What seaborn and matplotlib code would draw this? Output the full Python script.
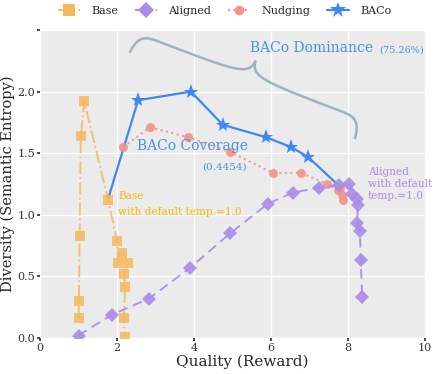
import numpy as np
import pandas as pd
import matplotlib
matplotlib.use("Agg")
import matplotlib.pyplot as plt
import seaborn as sns
from matplotlib.lines import Line2D

# ----------------------------------------------------------------
# data
# ----------------------------------------------------------------
base_x = [1.00, 1.01, 1.03, 1.06, 1.15, 1.77, 2.00, 2.03, 2.13, 2.29, 2.18, 2.21, 2.18, 2.20]
base_y = [0.16, 0.30, 0.83, 1.64, 1.92, 1.12, 0.79, 0.61, 0.69, 0.61, 0.52, 0.41, 0.16, 0.01]

aligned_x = [1.00, 1.87, 2.83, 3.90, 4.94, 5.92, 6.57, 7.25, 7.77, 8.03, 8.10, 8.23, 8.26,
             8.23, 8.31, 8.33, 8.37]
aligned_y = [0.02, 0.19, 0.32, 0.57, 0.85, 1.09, 1.18, 1.22, 1.24, 1.25, 1.17, 1.13, 1.08,
             0.93, 0.87, 0.63, 0.33]

nudging_x = [2.16, 2.86, 3.84, 4.94, 6.05, 6.78, 7.45, 7.74, 7.84, 7.80, 7.86]
nudging_y = [1.55, 1.71, 1.63, 1.51, 1.34, 1.34, 1.25, 1.20, 1.16, 1.22, 1.12]

baco_x = [1.77, 2.55, 3.92, 4.75, 5.87, 6.52, 6.96, 7.75]
baco_y = [1.13, 1.93, 2.00, 1.73, 1.63, 1.55, 1.47, 1.24]

x_ticks = [0, 2, 4, 6, 8, 10]
y_ticks = [0.0, 0.5, 1.0, 1.5, 2.0]

C_BASE = "#F5B85C"
C_ALIGNED = "#A98CEA"
C_NUDGE = "#F29488"
C_BACO = "#3F87F3"
C_TEXT_BLUE = "#4A90E2"
C_TEXT_BASE = "#F5BA0A"
C_BRACE = "#9DB3BE"

sns.set_theme(style="darkgrid", rc={
    "axes.facecolor": "#EBEBEB",
    "grid.color": "white",
    "grid.linewidth": 1.0,
    "xtick.bottom": True,
    "ytick.left": True,
    "xtick.major.size": 2.5,
    "ytick.major.size": 2.5,
    "xtick.color": "#333333",
    "ytick.color": "#333333",
})
plt.rcParams["font.family"] = ["DejaVu Serif"]

fig = plt.figure(figsize=(4.36, 3.74), dpi=100)
ax = fig.add_axes([40 / 436, 36 / 374, 385 / 436, 308 / 374])

df_base = pd.DataFrame({"x": base_x, "y": base_y})
df_aligned = pd.DataFrame({"x": aligned_x, "y": aligned_y})
df_nudge = pd.DataFrame({"x": nudging_x, "y": nudging_y})
df_baco = pd.DataFrame({"x": baco_x, "y": baco_y})

# BACo first so the other markers sit on top of its ends
sns.lineplot(data=df_baco, x="x", y="y", sort=False, estimator=None, ax=ax,
             color=C_BACO, lw=1.6, marker="*", markersize=11, markeredgewidth=0,
             markevery=list(range(1, len(baco_x) - 1)), zorder=2)
sns.lineplot(data=df_nudge, x="x", y="y", sort=False, estimator=None, ax=ax,
             color=C_NUDGE, lw=1.5, linestyle=":", marker="o", markersize=6.5,
             markeredgewidth=0, alpha=0.9, zorder=3)
sns.lineplot(data=df_aligned, x="x", y="y", sort=False, estimator=None, ax=ax,
             color=C_ALIGNED, lw=1.4, linestyle=(0, (5, 3)), marker="D", markersize=7.5,
             markeredgewidth=0, alpha=0.9, zorder=3)
sns.lineplot(data=df_base, x="x", y="y", sort=False, estimator=None, ax=ax,
             color=C_BASE, lw=1.4, linestyle="-.", marker="s", markersize=7,
             markeredgewidth=0, alpha=0.85, zorder=4)

ax.set_xlim(0, 10)
ax.set_ylim(0, 2.5)
ax.set_xticks(x_ticks)
ax.set_yticks(y_ticks + [2.5])
ax.set_yticklabels([f"{v:.1f}" for v in y_ticks] + [""])
ax.tick_params(axis="both", labelsize=8, pad=1)
ax.set_xlabel("Quality (Reward)", fontsize=11, labelpad=1)
ax.xaxis.set_label_coords(0.525, -0.055)
ax.set_ylabel("Diversity (Semantic Entropy)", fontsize=10.5, labelpad=2)
for s in ax.spines.values():
    s.set_visible(False)

# annotations
ax.text(5.45, 2.35, "BACo Dominance", color=C_TEXT_BLUE, fontsize=10, va="center")
ax.text(8.8, 2.34, "(75.26%)", color=C_TEXT_BLUE, fontsize=7, va="center",
        clip_on=False)
ax.text(2.52, 1.555, "BACo Coverage", color=C_TEXT_BLUE, fontsize=10, va="center")
ax.text(4.2, 1.385, "(0.4454)", color=C_TEXT_BLUE, fontsize=7.5, va="center")
ax.text(2.03, 1.15, "Base", color=C_TEXT_BASE, fontsize=7.6, va="center")
ax.text(2.03, 1.025, "with default temp.=1.0", color=C_TEXT_BASE, fontsize=7.6, va="center")
ax.text(8.52, 1.25, "Aligned\nwith default\ntemp.=1.0", color=C_ALIGNED, fontsize=7.6,
        va="center", linespacing=1.25, clip_on=False)

# curly brace (pixel space of the figure)
L, hb, ht = 241.0, 20.0, 36.0
p0 = np.array([130.0, 52.0])
d = np.array([0.934, 0.357])
n = np.array([0.357, -0.934])


def bez(a, b, c, e, k=20):
    t = np.linspace(0, 1, k)[:, None]
    return (1 - t) ** 3 * a + 3 * (1 - t) ** 2 * t * b + 3 * (1 - t) * t ** 2 * c + t ** 3 * e


r = 22.0
m = L / 2
pts = np.vstack([
    bez(np.array([0, 0]), np.array([2, hb * 0.9]), np.array([r * 0.4, hb]), np.array([r, hb])),
    bez(np.array([r, hb]), np.array([m - 14, hb]), np.array([m - 2, hb]), np.array([m, ht])),
    bez(np.array([m, ht]), np.array([m + 2, hb]), np.array([m + 14, hb]), np.array([L - r, hb])),
    bez(np.array([L - r, hb]), np.array([L - r * 0.4, hb]), np.array([L - 2, hb * 0.9]), np.array([L, 0])),
])
px = p0[0] + pts[:, 0] * d[0] + pts[:, 1] * n[0]
py = p0[1] + pts[:, 0] * d[1] + pts[:, 1] * n[1]
fig.lines.append(Line2D(px / 436, 1 - py / 374, transform=fig.transFigure,
                        color=C_BRACE, lw=1.8, solid_capstyle="round"))

# legend on top
handles = [
    Line2D([], [], color=C_BASE, linestyle="-.", marker="s", markersize=8, markeredgewidth=0, lw=1.4),
    Line2D([], [], color=C_ALIGNED, linestyle="--", marker="D", markersize=8, markeredgewidth=0, lw=1.4),
    Line2D([], [], color=C_NUDGE, linestyle=":", marker="o", markersize=7, markeredgewidth=0, lw=1.5),
    Line2D([], [], color=C_BACO, linestyle="-", marker="*", markersize=12, markeredgewidth=0, lw=1.6),
]
fig.legend(handles, ["Base", "Aligned", "Nudging", "BACo"], loc="upper center",
           bbox_to_anchor=(0.515, 1.01), ncol=4, frameon=False, fontsize=8,
           handlelength=2.0, columnspacing=1.5, handletextpad=1.0)

fig.savefig("out.png", dpi=100)
